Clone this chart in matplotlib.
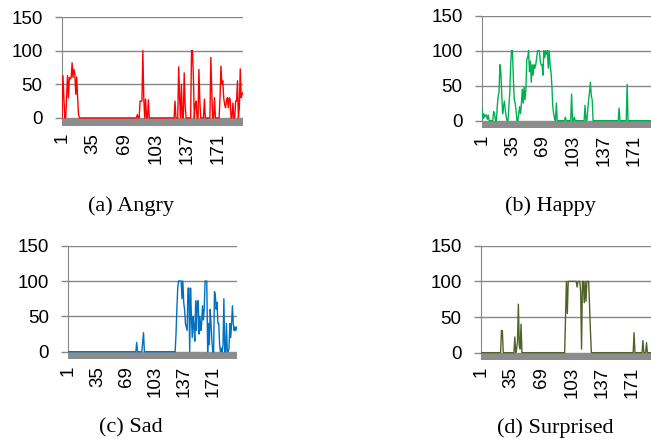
import matplotlib
matplotlib.use('Agg')
import matplotlib.pyplot as plt
import numpy as np

# Emotion intensity per frame (1..198)
angry_a = [0, 63, 30, 0, 0, 30, 63, 30, 60, 58, 60, 82, 60, 72, 65, 35, 61, 30, 5, 0]          # 1..20
angry_b = [5, 0, 0, 25, 25, 25, 100, 30, 0, 28, 0, 0, 27, 0]                                    # 83..96
angry_c = [0, 0, 0, 25, 0, 0, 0, 76, 30, 0,
           50, 0, 0, 67, 20, 0, 0, 0, 0, 0,
           0, 100, 100, 60, 0, 20, 25, 0, 0, 72,
           25, 0, 0, 0, 0, 28, 0, 0, 0, 0,
           0, 0, 90, 40, 0, 0, 30, 0, 0, 0,
           0, 0, 30, 77, 50, 55, 30, 20, 15, 25,
           30, 15, 30, 28, 0, 0, 22, 0, 0, 25,
           25, 55, 0, 15, 73, 30, 35, 38]                                                      # 121..198
angry = angry_a + [0] * 62 + angry_b + [0] * 24 + angry_c

happy_a = [17, 3, 10, 5, 8, 8, 2, 8, 0, 0,
           0, 0, 0, 13, 10, 0, 0, 20, 35, 40,
           80, 70, 40, 10, 20, 28, 15, 5, 0, 0,
           20, 40, 80, 100, 100, 60, 30, 25, 15, 0,
           0, 10, 20, 10, 25, 45, 25, 48, 30, 45,
           88, 90, 100, 70, 85, 55, 80, 65, 80, 75,
           80, 90, 100, 100, 100, 85, 80, 80, 65, 100,
           90, 100, 95, 100, 75, 100, 80, 70, 50, 20,
           10, 3, 0, 25, 0]                                                                    # 1..85
happy_b = [5, 0, 0, 0, 0, 0, 0, 38, 0, 0, 5, 0, 0, 0, 0, 0, 0, 0, 0, 0, 0, 0,
           22, 0, 0, 15, 30, 40, 55, 35, 30, 0]                                                # 94..125
happy_c = [18, 0, 0, 0, 0, 0, 0, 0, 0, 52]                                                     # 154..163
happy = happy_a + [0] * 8 + happy_b + [0] * 28 + happy_c + [0] * 35

sad_a = [13, 0, 0, 0, 0, 0, 0, 14, 27, 0]                                                      # 81..90
sad_b = [0, 25, 60, 90, 100,
         100, 100, 100, 75, 100, 70, 60, 40, 35, 30,
         90, 90, 0, 90, 50, 20, 50, 35, 15, 72,
         30, 72, 72, 25, 50, 30, 40, 65, 45, 60,
         100, 100, 100, 0, 40, 10, 60, 40, 15, 0,
         0, 85, 80, 60, 70, 40, 40, 10, 0, 5,
         0, 10, 75, 0, 0, 40, 0, 0, 5, 40,
         20, 40, 65, 40, 30, 35, 30, 35]                                                       # 126..198
sad = [0] * 80 + sad_a + [0] * 35 + sad_b

surprised_a = [31, 31, 0, 0, 0, 0, 0, 0, 0, 0, 0, 0, 0, 0, 0,
               22, 0, 5, 15, 68, 10, 5, 40, 0]                                                 # 24..47
surprised_b = [0, 50, 100, 55, 100, 100, 100, 100, 100, 100, 100, 100, 100, 100,
               92, 100, 100, 100, 85, 5, 100, 100, 70, 100, 72, 100, 100, 100, 65, 30, 0]      # 95..125
surprised_c = [28, 0, 0, 0, 0, 0, 0, 0, 0, 0, 17, 0, 0, 0, 14, 0]                              # 173..188
surprised = [0] * 23 + surprised_a + [0] * 47 + surprised_b + [0] * 47 + surprised_c + [0] * 10

frames = np.arange(1, len(angry) + 1)
xticks = [1, 35, 69, 103, 137, 171]

W, H = 651, 447
fig = plt.figure(figsize=(W / 100, H / 100), dpi=100)


def px_rect(l, t, r, b):
    return [l / W, 1 - b / H, (r - l) / W, (b - t) / H]


panels = [
    (angry, '#ff0000', (62, 17, 243, 126), -12, '(a) Angry', (131, 206)),
    (happy, '#00b050', (482, 15.7, 658.5, 127.7), -10, '(b) Happy', (550, 206)),
    (sad, '#0070c0', (68.3, 245.7, 236.7, 358.8), -10, '(c) Sad', (131, 428)),
    (surprised, '#4f6228', (481, 245.7, 656.3, 359.8), -10, '(d) Surprised', (555, 428)),
]

grid_col = '#868686'
for vals, col, box, ybot, caption, cpos in panels:
    ax = fig.add_axes(px_rect(*box))
    ax.axhspan(ybot, 0, color='#8c8c8c', lw=0, zorder=1)
    ax.plot(frames, vals, color=col, lw=1.0, zorder=3)
    ax.set_xlim(1, len(vals))
    ax.set_ylim(ybot, 150)
    ax.set_yticks([0, 50, 100, 150])
    ax.yaxis.grid(True, color=grid_col, lw=1.0, zorder=0)
    ax.set_axisbelow(True)
    for s in ['top', 'right', 'bottom']:
        ax.spines[s].set_visible(False)
    ax.spines['left'].set_bounds(0, 150)
    ax.spines['left'].set_color(grid_col)
    ax.tick_params(axis='y', length=5, width=1, color=grid_col, pad=9,
                   labelsize=13.5)
    ax.set_xticks(xticks)
    ax.set_xticklabels([str(t) for t in xticks], rotation=90, va='top', ha='center')
    ax.tick_params(axis='x', length=0, pad=5, labelsize=13.5)
    for lab in ax.get_xticklabels() + ax.get_yticklabels():
        lab.set_family('Liberation Sans')
    fig.text(cpos[0] / W, 1 - cpos[1] / H, caption, ha='center', va='center',
             family='Liberation Serif', fontsize=16)

fig.savefig('out.png', dpi=100)
